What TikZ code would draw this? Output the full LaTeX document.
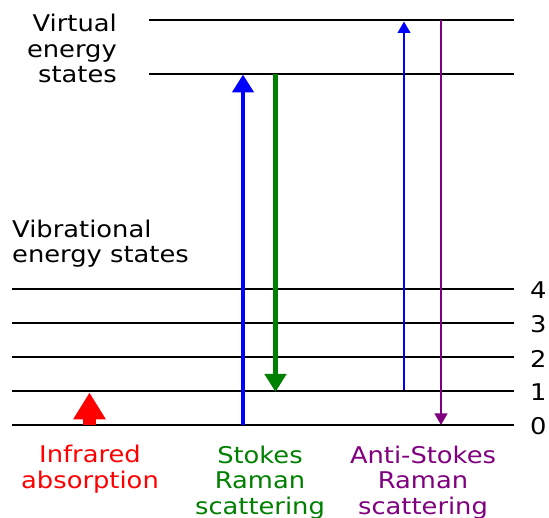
\documentclass[tikz,border=0pt]{standalone}
\usepackage{fontspec}
\setmainfont{DejaVu Sans}[FakeStretch=1.12]
\usetikzlibrary{arrows.meta}
\definecolor{ramanblue}{RGB}{0,0,255}
\definecolor{ramangreen}{RGB}{0,128,0}
\definecolor{irred}{RGB}{255,0,0}
\definecolor{antipurple}{RGB}{128,0,128}
\tikzset{
  level/.style={draw=black, line width=2.2pt},
  lbl/.style={inner sep=0pt, font=\fontsize{23}{25.7}\selectfont},
  bigtip/.style={-{Triangle[width=21pt,length=18pt]}, line width=4.5pt},
  thintip/.style={-{Triangle[width=12.5pt,length=11.5pt]}, line width=2.5pt},
  irtip/.style={-{Triangle[width=31pt,length=27pt]}, line width=13pt}
}
\begin{document}
\begin{tikzpicture}[x=1pt,y=-1pt]
\useasboundingbox (0,0) rectangle (549,518);

% virtual levels
\coordinate (VA1) at (149,20);  \coordinate (VA2) at (514,20);
\coordinate (VB1) at (149,74);  \coordinate (VB2) at (514,74);
\draw[level] (VA1) -- (VA2);
\draw[level] (VB1) -- (VB2);

% vibrational levels 0..4
\foreach \n/\y in {0/425,1/391,2/357,3/323,4/289}{
  \coordinate (L\n a) at (12,\y);
  \coordinate (L\n b) at (514,\y);
  \draw[level] (L\n a) -- (L\n b);
  \node[lbl, anchor=west] (num\n) at (530,\y+1.5) {\n};
}

% level labels (multi-line nodes: base anchor sits on the last line)
\node[lbl, anchor=base east, align=right] (virt) at (117,83) {Virtual\\energy\\states};
\node[lbl, anchor=base west, align=left] (vib) at (12,263) {Vibrational\\energy states};

% infrared absorption
\coordinate (irA) at (89.5,425);
\coordinate (irB) at (89.5,392.5);
\draw[irtip, draw=irred, fill=irred] (irA) -- (irB);

% Stokes Raman
\coordinate (stA) at (243,425);
\coordinate (stB) at (243,74.5);
\coordinate (stC) at (275.5,74);
\coordinate (stD) at (275.5,392);
\draw[bigtip, draw=ramanblue, fill=ramanblue] (stA) -- (stB);
\draw[bigtip, draw=ramangreen, fill=ramangreen] (stC) -- (stD);

% anti-Stokes Raman
\coordinate (asA) at (404,390);
\coordinate (asB) at (404,21.5);
\coordinate (asC) at (441,20);
\coordinate (asD) at (441,425);
\draw[thintip, draw=ramanblue, fill=ramanblue] (asA) -- (asB);
\draw[thintip, draw=antipurple, fill=antipurple] (asC) -- (asD);

% process labels
\node[lbl, anchor=base, align=center, text=irred] (irlbl) at (90,488.7) {Infrared\\absorption};
\node[lbl, anchor=base, align=center, text=ramangreen] (stlbl) at (260,514.4) {Stokes\\Raman\\scattering};
\node[lbl, anchor=base, align=center, text=antipurple] (aslbl) at (423,514.4) {Anti-Stokes\\Raman\\scattering};
\end{tikzpicture}
\end{document}
